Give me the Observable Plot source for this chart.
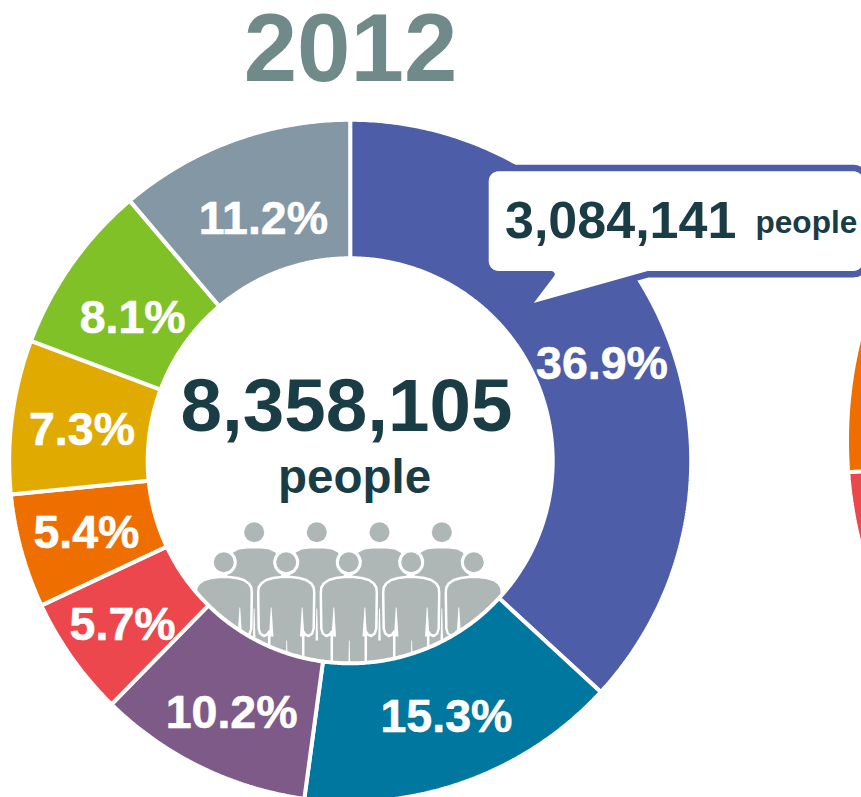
<!DOCTYPE html>
<html>
<head>
<meta charset="utf-8">
<style>
  html, body { margin: 0; padding: 0; background: #fff; overflow: hidden; }
  svg { display: block; }
</style>
<script src="https://cdn.jsdelivr.net/npm/d3@7"></script>
<script src="https://cdn.jsdelivr.net/npm/@observablehq/plot@0.6"></script>
</head>
<body>
<script>
// Population shares for 2012, clockwise from twelve o'clock
const shares = [36.9, 15.3, 10.2, 5.7, 5.4, 7.3, 8.1, 11.2];
const sliceColors = ["#4e5da8", "#00779e", "#7e5a88", "#ec474c", "#ee6e00", "#e0aa00", "#80c128", "#8497a5"];
const yearLabel = "2012";
const totalLabel = "8,358,105";
const peopleLabel = "people";
const calloutLabel = "3,084,141";

// Neighbouring ring: only the slices that reach into the frame, with the share that precedes them
const nextShares = [5.8, 6.0];
const nextOffset = 68;
const nextColors = ["#ec474c", "#ee6e00"];

// Layout, in pixels
const ring = {cx: 349.7, cy: 460.3, outer: 341, inner: 202.5};
const nextRing = {cx: 1267.5, cy: 440, outer: 421, inner: 250};
const labelRadius = 271;
const labelNudge = [[3.5, 12], [4.5, 1], [0.5, 9], [-6.5, 8], [-2.5, 0], [0.5, 5], [4, 13], [6.5, 13]];
const ink = "#1a3c44";
const blue = sliceColors[0];
const font = "Liberation Sans, Arial, sans-serif";

const polar = (c, r, turn) => [c.cx + r * Math.sin(turn * 2 * Math.PI), c.cy - r * Math.cos(turn * 2 * Math.PI)];

// Outline of one annular sector, from fractional turns t0 to t1
function sector(c, t0, t1, id, color) {
  const n = Math.max(2, Math.ceil((t1 - t0) * 720));
  const pts = [];
  for (let i = 0; i <= n; ++i) pts.push(polar(c, c.outer, t0 + (t1 - t0) * i / n));
  for (let i = n; i >= 0; --i) pts.push(polar(c, c.inner, t0 + (t1 - t0) * i / n));
  return pts.map(([x, y]) => ({x, y, id, color}));
}

const total = d3.sum(shares);
let running = 0;
const sliceInfo = shares.map((v, i) => {
  const t0 = running / total;
  running += v;
  return {v, i, t0, t1: running / total, color: sliceColors[i]};
});
const slicePoints = sliceInfo.flatMap(s => sector(ring, s.t0, s.t1, s.i, s.color));
const sliceLabels = sliceInfo.map(s => {
  const [x, y] = polar(ring, labelRadius, (s.t0 + s.t1) / 2);
  return {x: x + labelNudge[s.i][0], y: y + labelNudge[s.i][1], text: s.v.toFixed(1) + "%"};
});

let nextRunning = nextOffset;
const nextPoints = nextShares.flatMap((v, i) => {
  const t0 = nextRunning / 100;
  nextRunning += v;
  return sector(nextRing, t0, nextRunning / 100, "n" + i, nextColors[i]);
});

// Speech bubble: rounded box with a tail pointing into the largest slice
function bubble() {
  const l = 485, r = 866, t = 167.5, b = 273.7, rad = 13;
  const corner = (cx, cy, a0) => d3.range(0, 7).map(i => {
    const a = a0 + i / 6 * Math.PI / 2;
    return {x: cx + rad * Math.cos(a), y: cy + rad * Math.sin(a)};
  });
  return [
    ...corner(l + rad, t + rad, Math.PI),
    ...corner(r - rad, t + rad, -Math.PI / 2),
    ...corner(r - rad, b - rad, 0),
    {x: 648, y: b},
    {x: 525, y: 308},
    {x: 551, y: b},
    ...corner(l + rad, b - rad, Math.PI / 2)
  ];
}

// Crowd pictogram: four figures behind, five in front
const backHeads = [253.7, 316.3, 379, 441.3];
const frontHeads = [223.3, 285.7, 348.3, 410.7, 473.3];
const backHeadY = 531.7, frontHeadY = 561.7;

const backShape = [[-27, 700], [-27, 572], [-25, 560], [-21, 552], [-15, 549], [-7, 548], [7, 548], [15, 549], [21, 552], [25, 560], [27, 572], [27, 700]];
const frontHalf = [[-28, 592], [-27.5, 587], [-25, 583], [-20, 579.5], [-13, 577.5], [-5, 576.5]];
const frontShape = [
  ...frontHalf,
  ...frontHalf.slice().reverse().map(([x, y]) => [-x, y]),
  [27.5, 628], [26, 633], [22.5, 635.5], [19, 634], [17, 631], [17, 700],
  [-17, 700], [-17, 631], [-19, 634], [-22.5, 635.5], [-26, 633], [-27.5, 628]
];
const outline = (shape, hs, tag) => hs.flatMap((h, i) => shape.map(([dx, y]) => ({x: h + dx, y, id: tag + i})));
const sliver = (x, y0, y1, w, id) => [{x: x - 0.4, y: y0, id}, {x: x + 0.4, y: y0, id}, {x: x + w / 2, y: y1, id}, {x: x - w / 2, y: y1, id}];

const slits = [
  ...frontHeads.flatMap((h, i) => [
    ...sliver(h - 15, 607, 636, 4.5, "a" + i),
    ...sliver(h + 16, 607, 636, 4.5, "b" + i),
    ...sliver(h + 0.5, 640, 700, 3, "c" + i)
  ]),
  ...backHeads.flatMap((h, i) => sliver(h, 608, 640, 2.5, "d" + i))
];

const word = (x, y, text, size, color, anchor = "middle") =>
  Plot.text([{x, y, text}], {x: "x", y: "y", text: "text", fontSize: size, fontWeight: "bold", fontFamily: font, fill: color, textAnchor: anchor, lineAnchor: "bottom"});

const plot = Plot.plot({
  width: 861,
  height: 797,
  margin: 0,
  x: {domain: [0, 861], range: [0, 861], axis: null},
  y: {domain: [0, 797], range: [0, 797], axis: null},
  color: {type: "identity"},
  style: {background: "#fff", fontFamily: font},
  marks: [
    // crowd sits underneath the ring, which trims it to the hole
    Plot.line(outline(backShape, backHeads, "back"), {x: "x", y: "y", z: "id", fill: "#aeb6b6", curve: "linear-closed"}),
    Plot.dot(backHeads, {x: d => d, y: () => backHeadY, r: 10, fill: "#aeb6b6"}),
    Plot.line(outline(frontShape, frontHeads, "front"), {x: "x", y: "y", z: "id", fill: "#aeb6b6", stroke: "#fff", strokeWidth: 2.5, curve: "linear-closed"}),
    Plot.line(slits, {x: "x", y: "y", z: "id", fill: "#fff", curve: "linear-closed"}),
    Plot.dot(frontHeads, {x: d => d, y: () => frontHeadY, r: 11.5, fill: "#aeb6b6", stroke: "#fff", strokeWidth: 3}),

    Plot.line(slicePoints, {x: "x", y: "y", z: "id", fill: "color", stroke: "#fff", strokeWidth: 4, strokeLinejoin: "miter", curve: "linear-closed"}),
    Plot.line(nextPoints, {x: "x", y: "y", z: "id", fill: "color", stroke: "#fff", strokeWidth: 4, strokeLinejoin: "miter", curve: "linear-closed"}),

    Plot.line(bubble(), {x: "x", y: "y", fill: "#fff", stroke: blue, strokeWidth: 6.4, strokeLinejoin: "round", curve: "linear-closed"}),

    Plot.text(sliceLabels, {x: "x", y: "y", text: "text", fontSize: 46.5, fontWeight: "bold", fontFamily: font, fill: "#fff", stroke: "#fff", strokeWidth: 0.6, lineAnchor: "middle"}),

    word(350, 80.5, yearLabel, 96, "#6f8a88"),
    word(346, 430, totalLabel, 74.6, ink),
    word(354, 492, peopleLabel, 47.5, ink),
    word(504.5, 237, calloutLabel, 52, ink, "start"),
    word(755, 232, peopleLabel, 31.6, ink, "start")
  ]
});
document.body.appendChild(plot);
</script>
</body>
</html>
